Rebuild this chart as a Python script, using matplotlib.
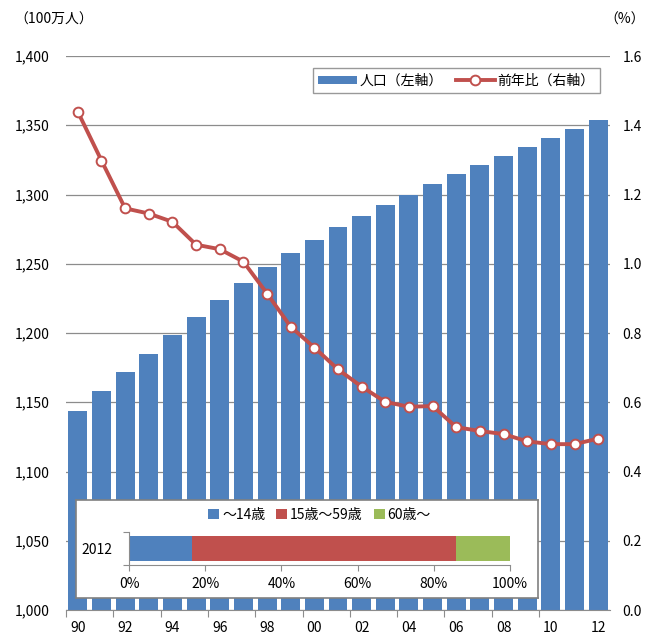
import matplotlib
matplotlib.use("Agg")
import matplotlib.pyplot as plt
from matplotlib.patches import Patch
from matplotlib.lines import Line2D
import numpy as np

plt.rcParams['font.family'] = ['Noto Sans CJK JP', 'DejaVu Sans']

years = ['90', '91', '92', '93', '94', '95', '96', '97', '98', '99', '00', '01',
         '02', '03', '04', '05', '06', '07', '08', '09', '10', '11', '12']
population = [1143.33, 1158.23, 1171.71, 1185.17, 1198.50, 1211.21, 1223.89, 1236.26,
              1247.61, 1257.86, 1267.43, 1276.27, 1284.53, 1292.27, 1299.88, 1307.56,
              1314.48, 1321.29, 1328.02, 1334.50, 1340.91, 1347.35, 1354.04]
growth = [1.439, 1.298, 1.160, 1.145, 1.121, 1.055, 1.042, 1.006, 0.914, 0.818,
          0.758, 0.695, 0.645, 0.601, 0.587, 0.589, 0.528, 0.517, 0.508, 0.487,
          0.479, 0.479, 0.495]
age_labels = ['～14歳', '15歳～59歳', '60歳～']
age_shares = [16.5, 69.2, 14.3]
age_year = '2012'

BLUE = '#4F81BD'
RED = '#C0504D'
GREEN = '#9BBB59'
GRID = '#8C8C8C'

W, H = 653, 637
fig = plt.figure(figsize=(W / 100, H / 100), dpi=100)

def px(l, t, r, b):
    return [l / W, 1 - b / H, (r - l) / W, (b - t) / H]

ax = fig.add_axes(px(66, 56, 610, 610))
x = np.arange(len(years))
ax.bar(x, population, width=0.8, color=BLUE, zorder=2)
ax.set_ylim(1000, 1400)
ax.set_xlim(-0.5, len(years) - 0.5)
ax.set_yticks(np.arange(1000, 1401, 50))
ax.set_yticklabels([f'{v:,}' for v in range(1000, 1401, 50)], fontsize=10)
ax.yaxis.grid(True, color=GRID, linewidth=0.9, zorder=0)
ax.set_axisbelow(True)
ax.tick_params(axis='y', length=0, pad=12)
for s in ['top', 'right', 'left']:
    ax.spines[s].set_visible(False)
ax.spines['bottom'].set_color(GRID)
ax.spines['bottom'].set_zorder(3)

ax.set_xticks(np.arange(-0.5, 21, 2))
ax.set_xticklabels([])
ax.tick_params(axis='x', which='major', length=5, color=GRID, direction='out')
ax.set_xticks(x[::2], minor=True)
ax.set_xticklabels(years[::2], minor=True, fontsize=10)
ax.tick_params(axis='x', which='minor', length=0, pad=8)

ax2 = ax.twinx()
ax2.plot(x, growth, color=RED, linewidth=2.8, marker='o', markersize=7,
         markerfacecolor='white', markeredgecolor=RED, markeredgewidth=1.4, zorder=4)
ax2.set_ylim(0, 1.6)
ax2.set_yticks(np.arange(0, 1.61, 0.2))
ax2.set_yticklabels([f'{v:.1f}' for v in np.arange(0, 1.61, 0.2)], fontsize=10)
ax2.tick_params(axis='y', length=0, pad=9)
for s in ['top', 'right', 'left', 'bottom']:
    ax2.spines[s].set_visible(False)

fig.text(14 / W, 1 - 20 / H, '（100万人）', fontsize=10, ha='left', va='center')
fig.text(604 / W, 1 - 20 / H, '（%）', fontsize=10, ha='left', va='center')

handles = [Patch(facecolor=BLUE, edgecolor='none'),
           Line2D([0], [0], color=RED, linewidth=2.8, marker='o', markersize=7,
                  markerfacecolor='white', markeredgecolor=RED, markeredgewidth=1.4)]
leg = ax2.legend(handles, ['人口（左軸）', '前年比（右軸）'], loc='upper right',
                 bbox_to_anchor=((600 - 66) / 544, (610 - 68) / 554),
                 ncol=2, fontsize=10, frameon=True, fancybox=False,
                 edgecolor='#808080', handlelength=2.8, handleheight=0.5,
                 columnspacing=0.9, handletextpad=0.2, borderpad=0.4,
                 borderaxespad=0)
leg.get_frame().set_linewidth(1.0)

# inset box
box = fig.add_axes(px(76, 500, 538, 598))
box.set_facecolor('white')
box.set_xticks([])
box.set_yticks([])
for s in box.spines.values():
    s.set_color('#808080')
    s.set_linewidth(1.2)
box.set_zorder(5)

ins = fig.add_axes(px(129, 532, 510, 565))
ins.set_zorder(6)
ins.patch.set_alpha(0)
left = 0
cols = [BLUE, RED, GREEN]
for share, c, lab in zip(age_shares, cols, age_labels):
    ins.barh(0, share / 100, left=left, height=0.78, color=c, label=lab)
    left += share / 100
ins.set_xlim(0, 1)
ins.set_ylim(-0.5, 0.5)
ins.set_xticks(np.arange(0, 1.01, 0.2))
ins.set_xticklabels([f'{int(round(v * 100))}%' for v in np.arange(0, 1.01, 0.2)], fontsize=10)
ins.tick_params(axis='x', length=4, color=GRID, pad=5)
ins.set_yticks([-0.5, 0.5])
ins.set_yticklabels([])
ins.tick_params(axis='y', which='major', length=4, color=GRID)
ins.set_yticks([0], minor=True)
ins.set_yticklabels([age_year], minor=True, fontsize=10)
ins.tick_params(axis='y', which='minor', length=0, pad=12)
for s in ['top', 'right']:
    ins.spines[s].set_visible(False)
for s in ['left', 'bottom']:
    ins.spines[s].set_color(GRID)
ins.legend(loc='center', bbox_to_anchor=(0.5, (565 - 515) / 33), ncol=3,
           fontsize=10, frameon=False, handlelength=0.8, handleheight=0.8,
           handletextpad=0.2, columnspacing=0.8)

fig.savefig('out.png', dpi=100)
